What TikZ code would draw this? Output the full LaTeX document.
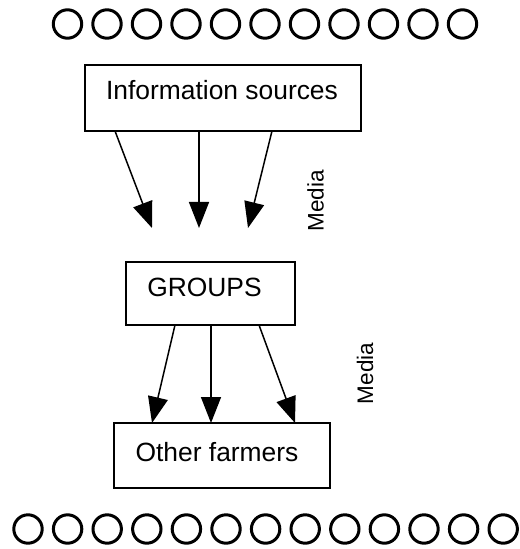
\documentclass[tikz,border=0pt]{standalone}
\usepackage{fontspec}
\setmainfont{Liberation Sans}
\usetikzlibrary{arrows.meta}
\begin{document}
\begin{tikzpicture}[x=1bp,y=-1bp,
  box/.style={draw,line width=1.5bp},
  lbl/.style={font=\fontsize{26.4bp}{30bp}\selectfont,inner sep=0pt},
  side/.style={inner sep=0pt,rotate=90,font=\fontsize{22.5bp}{26bp}\selectfont},
  conn/.style={line width=1.5bp,-{Triangle[length=26bp,width=20bp]}},
  ring/.style={draw,line width=3bp}]
\useasboundingbox (0,0) rectangle (520,549);
% boxes
\draw[box] (85,65) rectangle (361,131);
\node[lbl] (info) at (222,90) {Information sources};
\coordinate (b1l) at (115,131); \coordinate (b1m) at (199,131); \coordinate (b1r) at (272,131);
\coordinate (t1l) at (152,228); \coordinate (t1m) at (199,228); \coordinate (t1r) at (248,228);
\draw[box] (126,262) rectangle (295,325);
\node[lbl] (groups) at (204.5,287) {GROUPS};
\coordinate (b2l) at (175,325); \coordinate (b2m) at (211,325); \coordinate (b2r) at (259,325);
\draw[box] (114,423) rectangle (330,488);
\node[lbl] (farm) at (217,452) {Other farmers};
\coordinate (t2l) at (152,423); \coordinate (t2m) at (211,423); \coordinate (t2r) at (295,423);
% arrows
\draw[conn] (b1l) -- (t1l);
\draw[conn] (b1m) -- (t1m);
\draw[conn] (b1r) -- (t1r);
\draw[conn] (b2l) -- (t2l);
\draw[conn] (b2m) -- (t2m);
\draw[conn] (b2r) -- (t2r);
% media labels
\node[side] (media1) at (315.5,201) {Media};
\node[side] (media2) at (365,373.5) {Media};
% circles
\foreach \i in {0,...,10} \draw[ring] (67.5+39.5*\i,24) circle (14.2);
\foreach \i in {0,...,12} \draw[ring] (28+39.6*\i,529) circle (14.2);
\end{tikzpicture}
\end{document}
